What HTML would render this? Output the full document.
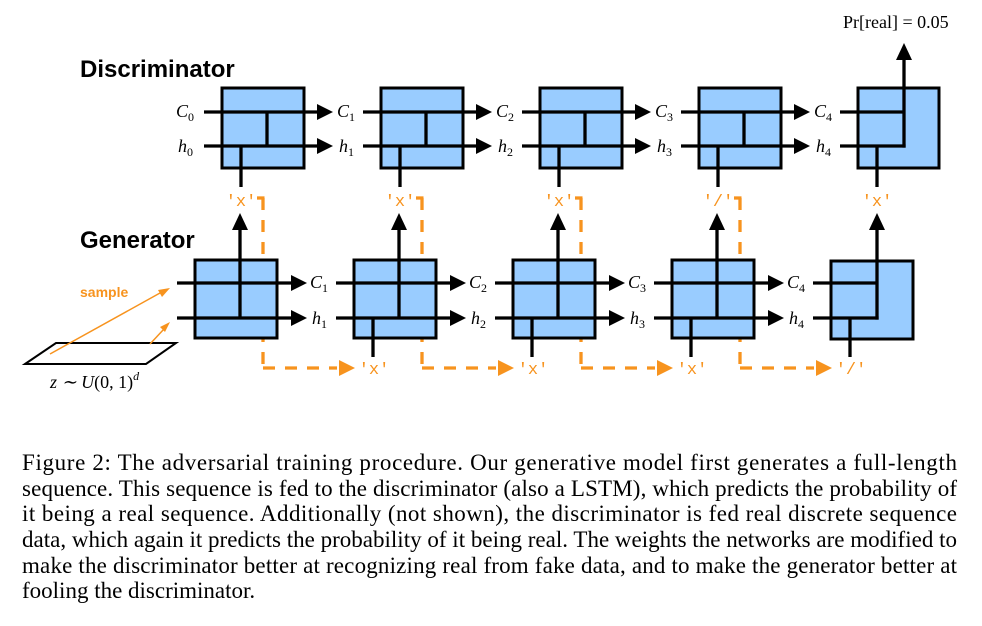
<!DOCTYPE html>
<html><head><meta charset="utf-8"><style>
html,body{margin:0;padding:0;background:#fff;}
svg{display:block;}
.lab{font-family:"Liberation Serif",serif;font-style:italic;font-size:18px;}
.sub{font-style:normal;font-size:12px;}
.or{font-family:"Liberation Mono",monospace;font-size:17px;fill:#f7931e;}
.cap{font-family:"Liberation Serif",serif;font-size:23px;}
.hd{font-family:"Liberation Sans",sans-serif;font-weight:bold;font-size:24px;}
</style></head><body>
<svg id="s" width="982" height="626" viewBox="0 0 982 626" xmlns="http://www.w3.org/2000/svg">
<g id="shapes"></g>
<text class="hd" x="80" y="77">Discriminator</text>
<text class="hd" x="80" y="248">Generator</text>
<text x="843" y="28" style="font-family:'Liberation Serif',serif;font-size:18px">Pr[real] = 0.05</text>
<text class="lab" x="176" y="117">C<tspan class="sub" dy="4">0</tspan></text>
<text class="lab" x="178" y="152">h<tspan class="sub" dy="4">0</tspan></text>
<text class="lab" x="337" y="117">C<tspan class="sub" dy="4">1</tspan></text>
<text class="lab" x="339" y="152">h<tspan class="sub" dy="4">1</tspan></text>
<text class="lab" x="496" y="117">C<tspan class="sub" dy="4">2</tspan></text>
<text class="lab" x="498" y="152">h<tspan class="sub" dy="4">2</tspan></text>
<text class="lab" x="655" y="117">C<tspan class="sub" dy="4">3</tspan></text>
<text class="lab" x="657" y="152">h<tspan class="sub" dy="4">3</tspan></text>
<text class="lab" x="814" y="117">C<tspan class="sub" dy="4">4</tspan></text>
<text class="lab" x="816" y="152">h<tspan class="sub" dy="4">4</tspan></text>
<text class="lab" x="310" y="288">C<tspan class="sub" dy="4">1</tspan></text>
<text class="lab" x="312" y="324">h<tspan class="sub" dy="4">1</tspan></text>
<text class="lab" x="469" y="288">C<tspan class="sub" dy="4">2</tspan></text>
<text class="lab" x="471" y="324">h<tspan class="sub" dy="4">2</tspan></text>
<text class="lab" x="628" y="288">C<tspan class="sub" dy="4">3</tspan></text>
<text class="lab" x="630" y="324">h<tspan class="sub" dy="4">3</tspan></text>
<text class="lab" x="787" y="288">C<tspan class="sub" dy="4">4</tspan></text>
<text class="lab" x="789" y="324">h<tspan class="sub" dy="4">4</tspan></text>
<text class="or" x="241" y="206" text-anchor="middle">'x'</text>
<text class="or" x="400" y="206" text-anchor="middle">'x'</text>
<text class="or" x="559" y="206" text-anchor="middle">'x'</text>
<text class="or" x="718" y="206" text-anchor="middle">'/'</text>
<text class="or" x="877" y="206" text-anchor="middle">'x'</text>
<text class="or" x="374" y="374" text-anchor="middle">'x'</text>
<text class="or" x="533" y="374" text-anchor="middle">'x'</text>
<text class="or" x="692" y="374" text-anchor="middle">'x'</text>
<text class="or" x="851" y="374" text-anchor="middle">'/'</text>
<text x="80" y="297" style="font-family:'Liberation Sans',sans-serif;font-weight:bold;font-size:14px;fill:#f7931e">sample</text>
<text x="50" y="388" style="font-family:'Liberation Serif',serif;font-style:italic;font-size:18px">z ∼ U<tspan font-style="normal">(0, 1)</tspan><tspan font-size="12" dy="-8">d</tspan></text>
<text class="cap" x="22" y="470" textLength="935" lengthAdjust="spacing">Figure 2: The adversarial training procedure. Our generative model first generates a full-length</text>
<text class="cap" x="22" y="496" textLength="935" lengthAdjust="spacing">sequence. This sequence is fed to the discriminator (also a LSTM), which predicts the probability of</text>
<text class="cap" x="22" y="521" textLength="935" lengthAdjust="spacing">it being a real sequence. Additionally (not shown), the discriminator is fed real discrete sequence</text>
<text class="cap" x="22" y="547" textLength="935" lengthAdjust="spacing">data, which again it predicts the probability of it being real. The weights the networks are modified to</text>
<text class="cap" x="22" y="573" textLength="935" lengthAdjust="spacing">make the discriminator better at recognizing real from fake data, and to make the generator better at</text>
<text class="cap" x="22" y="598">fooling the discriminator.</text>
</svg>
<script>
var g=document.getElementById('shapes'),h='';
function L(x1,y1,x2,y2,c,w,d){h+='<line x1="'+x1+'" y1="'+y1+'" x2="'+x2+'" y2="'+y2+'" stroke="'+(c||'#000')+'" stroke-width="'+(w||3.3)+'"'+(d?' stroke-dasharray="'+d+'"':'')+'/>';}
function AR(x,y,c){h+='<polygon points="'+x+','+y+' '+(x-16)+','+(y-8)+' '+(x-16)+','+(y+8)+'" fill="'+(c||'#000')+'"/>';}
function AU(x,y){h+='<polygon points="'+x+','+y+' '+(x-8)+','+(y+17)+' '+(x+8)+','+(y+17)+'" fill="#000"/>';}
function R(x,y,w,hh){h+='<rect x="'+x+'" y="'+y+'" width="'+w+'" height="'+hh+'" fill="#99ccff" stroke="#000" stroke-width="3"/>';}
var O='#f7931e';
for(var i=0;i<4;i++){var x=263+159*i;
 L(x-6,198,x+1.5,198,O,3.3);L(x,198,x,368,O,3.3,'12,10');L(x,368,x+74,368,O,3.3,'12,10');AR(x+92,368,O);}
for(var i=0;i<4;i++){var x=222+159*i;R(x,88,82,80);
 L(x-18,112,x+98,112);AR(x+111,112);L(x-18,146,x+98,146);AR(x+111,146);
 L(x+45,112,x+45,146);L(x+19,146,x+19,187);}
R(858,88,81,80);L(840,112,904,112);L(840,146,905.6,146);L(904,147.6,904,58);AU(904,43);L(877,146,877,187);
for(var j=0;j<4;j++){var x=195+159*j;R(x,260,82,78);
 L(x-18,283,x+99,283);AR(x+112,283);L(x-18,318,x+99,318);AR(x+112,318);
 L(x+45,318,x+45,228);AU(x+45,213);if(j>0)L(x+19,318,x+19,357);}
R(831,261,82,78);L(813,283,877,283);L(813,318,878.6,318);L(877,319.6,877,228);AU(877,213);L(850,318,850,357);
h+='<polygon points="25,364 56,343 176,343 146,364" fill="none" stroke="#000" stroke-width="2"/>';
L(50,354,160,293,O,1.5);h+='<polygon points="170,288 158,290 162,297" fill="'+O+'"/>';
L(150,344,164,329,O,1.5);h+='<polygon points="170,322 160,327 165,332" fill="'+O+'"/>';
g.innerHTML=h;
</script>
</body></html>
